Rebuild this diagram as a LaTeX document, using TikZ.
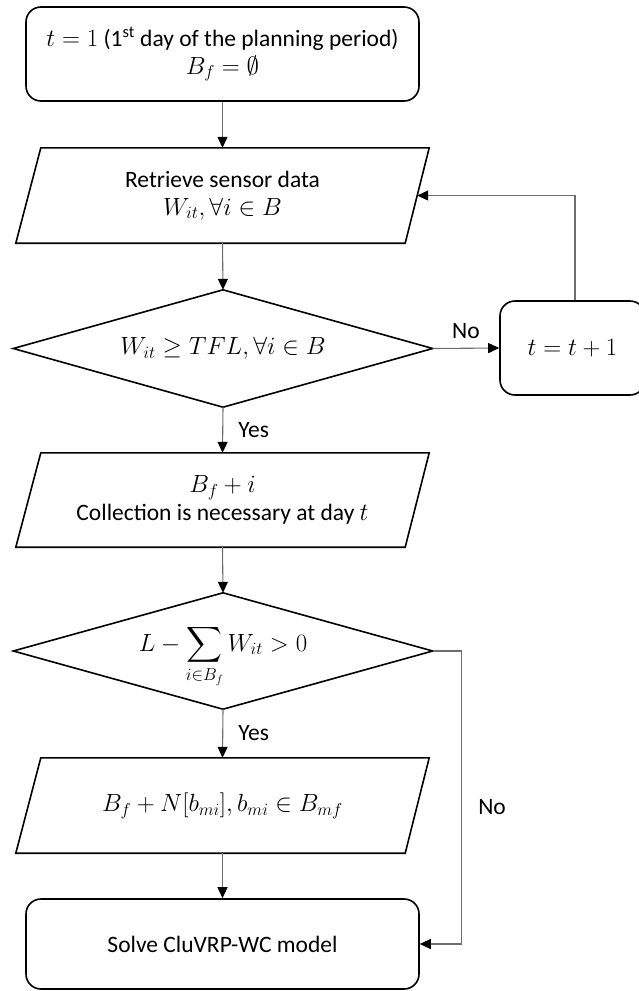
\documentclass[tikz,border=0pt]{standalone}
\usepackage{amsmath}
\usepackage{fontspec}
\setmainfont{Carlito}
\usetikzlibrary{arrows.meta,calc}
\definecolor{linegray}{RGB}{110,110,110}
\begin{document}
\begin{tikzpicture}[x=1pt,y=-1pt,
  font=\fontsize{23.5}{28}\selectfont,
  shp/.style={draw=none, rectangle, inner sep=0pt, align=center},
  rbox/.style={draw=black, line width=1.6pt, rounded corners=15pt, inner sep=0pt, align=center},
  outl/.style={draw=black, line width=1.6pt, line join=miter},
  conn/.style={draw=linegray, line width=1.1pt, -{Triangle[length=11pt,width=10pt,color=black]}},
  lbl/.style={inner sep=0pt},
]
\useasboundingbox (0,0) rectangle (639,991);
\clip (0,0) rectangle (639,991);

% nodes
\node[rbox, minimum width=393pt, minimum height=94pt] (b1) at (222.5,54)
  {$t=1$ (1\textsuperscript{st} day of the planning period)\\ $B_f=\emptyset$};

\node[shp, minimum width=413pt, minimum height=95pt] (p1) at (222.5,195.5)
  {Retrieve sensor data\\ $W_{it},\forall i\in B$};
\draw[outl] ($(p1.north west)+(25,0)$) -- (p1.north east) -- ($(p1.south east)+(-24,0)$) -- (p1.south west) -- cycle;

\node[shp, minimum width=419pt, minimum height=117pt] (d1) at (223,348.5)
  {$W_{it}\geq TFL,\forall i\in B$};
\draw[outl] (d1.north) -- (d1.east) -- (d1.south) -- (d1.west) -- cycle;

\node[rbox, minimum width=145pt, minimum height=94pt] (t1) at (572.5,348) {$t=t+1$};

\node[shp, minimum width=413pt, minimum height=94pt] (p2) at (222.5,500)
  {$B_f+i$\\ Collection is necessary at day $t$};
\draw[outl] ($(p2.north west)+(25,0)$) -- (p2.north east) -- ($(p2.south east)+(-24,0)$) -- (p2.south west) -- cycle;

\node[shp, minimum width=419pt, minimum height=116pt] (d2) at (223,651)
  {$\smash{\displaystyle L-\sum_{i\in B_f}W_{it}>0}$};
\draw[outl] (d2.north) -- (d2.east) -- (d2.south) -- (d2.west) -- cycle;

\node[shp, minimum width=413pt, minimum height=95pt] (p3) at (222.5,805.5)
  {$B_f+N[b_{mi}],b_{mi}\in B_{mf}$};
\draw[outl] ($(p3.north west)+(25,0)$) -- (p3.north east) -- ($(p3.south east)+(-24,0)$) -- (p3.south west) -- cycle;

\node[rbox, minimum width=393pt, minimum height=90pt] (b2) at (222.5,944) {Solve CluVRP-WC model};

% connectors
\draw[conn] (b1.south) -- (p1.north);
\draw[conn] (p1.south) -- (d1.north);
\draw[conn] (d1.south) -- (p2.north) node[lbl, midway, right=15pt] {Yes};
\draw[conn] (p2.south) -- (d2.north);
\draw[conn] (d2.south) -- (p3.north) node[lbl, midway, right=15pt] {Yes};
\draw[conn] (p3.south) -- (b2.north);

\draw[conn] (d1.east) -- (t1.west) node[lbl, midway, above=9pt] {No};
\coordinate (p1e) at ($(p1.north east)!0.5!($(p1.south east)+(-24,0)$)$);
\draw[conn] ([xshift=2.5pt]t1.north) |- (p1e);

\coordinate (c2) at ($(d2.east)+(29,0)$);
\draw[conn] (d2.east) -- (c2) |- (b2.east) node[lbl, pos=0.266, right=16pt] {No};
\end{tikzpicture}
\end{document}
